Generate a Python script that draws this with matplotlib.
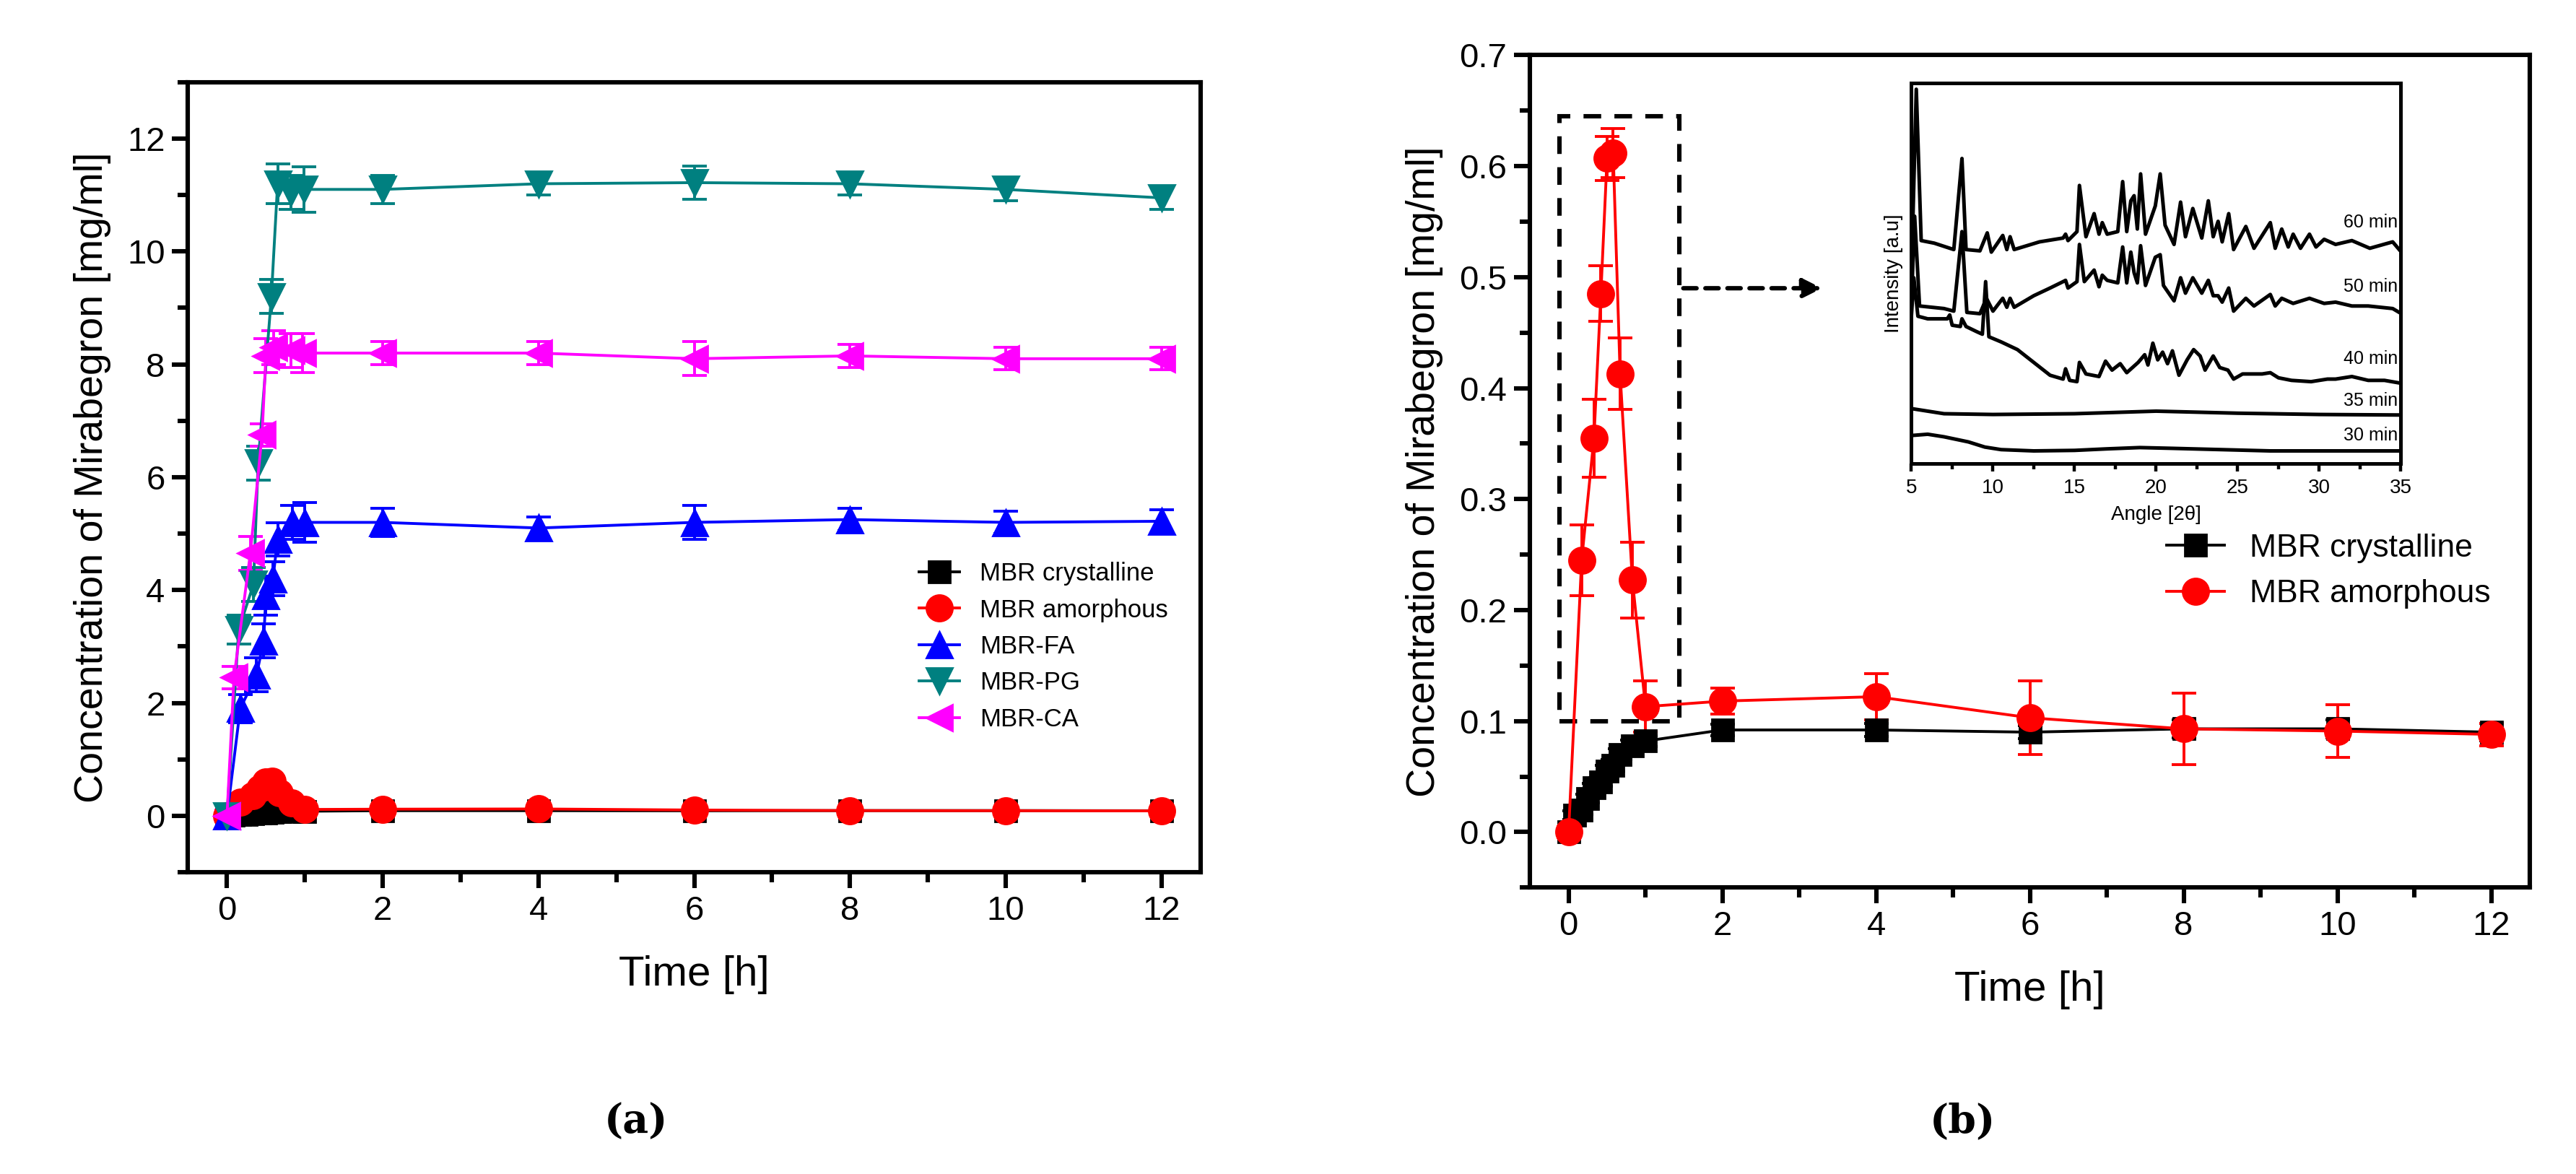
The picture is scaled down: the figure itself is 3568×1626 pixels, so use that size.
import matplotlib
matplotlib.use("Agg")
import matplotlib.pyplot as plt
from matplotlib.patches import Rectangle
from matplotlib.lines import Line2D
from matplotlib.ticker import MultipleLocator, FormatStrFormatter

plt.rcParams["font.family"] = ["Liberation Sans", "DejaVu Sans"]

# ---- dissolution data ----
t_cry = [0, 0.083, 0.167, 0.25, 0.33, 0.42, 0.5, 0.58, 0.67, 0.83, 1, 2, 4, 6, 8, 10, 12]
c_cry = [0, 0.015, 0.02, 0.03, 0.04, 0.045, 0.055, 0.06, 0.07, 0.078, 0.082, 0.092, 0.092, 0.09, 0.093, 0.093, 0.09]
e_cry = [0.003, 0.004, 0.004, 0.004, 0.004, 0.004, 0.005, 0.005, 0.005, 0.005, 0.005, 0.005, 0.006, 0.006, 0.008, 0.008, 0.008]

t_am = [0, 0.17, 0.33, 0.42, 0.5, 0.58, 0.67, 0.83, 1, 2, 4, 6, 8, 10, 12]
c_am = [0, 0.245, 0.355, 0.485, 0.607, 0.612, 0.413, 0.227, 0.113, 0.118, 0.122, 0.103, 0.093, 0.091, 0.088]
e_am = [0.005, 0.032, 0.035, 0.025, 0.02, 0.022, 0.032, 0.034, 0.023, 0.012, 0.021, 0.033, 0.032, 0.024, 0.01]

t_fa = [0, 0.17, 0.38, 0.47, 0.5, 0.59, 0.65, 0.84, 1, 2, 4, 6, 8, 10, 12]
c_fa = [0, 1.9, 2.5, 3.1, 3.9, 4.2, 4.9, 5.2, 5.2, 5.2, 5.1, 5.2, 5.25, 5.2, 5.22]
e_fa = [0.1, 0.25, 0.3, 0.3, 0.35, 0.3, 0.3, 0.3, 0.35, 0.25, 0.2, 0.3, 0.2, 0.2, 0.2]

t_pg = [0, 0.15, 0.34, 0.4, 0.57, 0.65, 0.82, 0.99, 2, 4, 6, 8, 10, 12]
c_pg = [0, 3.3, 4.1, 6.25, 9.2, 11.2, 11.05, 11.1, 11.1, 11.2, 11.22, 11.2, 11.1, 10.95]
e_pg = [0.1, 0.25, 0.3, 0.3, 0.3, 0.35, 0.3, 0.4, 0.25, 0.2, 0.3, 0.2, 0.2, 0.2]

t_ca = [0, 0.09, 0.3, 0.45, 0.5, 0.6, 0.82, 0.97, 2, 4, 6, 8, 10, 12]
c_ca = [0, 2.45, 4.65, 6.75, 8.15, 8.3, 8.25, 8.2, 8.2, 8.2, 8.1, 8.15, 8.1, 8.1]
e_ca = [0.1, 0.2, 0.3, 0.2, 0.3, 0.3, 0.3, 0.35, 0.2, 0.2, 0.3, 0.2, 0.2, 0.2]

# ---- XRD inset (y read as pixel rows, axis inverted) ----
ang60 = [5.0, 5.3, 5.6, 6.4, 7.6, 8.1, 8.35, 9.2, 9.65, 9.9, 10.6, 10.85, 11.05, 11.3, 12.85, 14.3, 14.45, 14.6,
         15.15, 15.3, 15.7, 16.2, 16.5, 16.7, 17.0, 17.65, 17.95, 18.2, 18.45, 18.65, 18.85, 19.05, 19.35, 19.95,
         20.25, 20.55, 21.1, 21.5, 21.8, 22.25, 22.8, 23.2, 23.5, 23.8, 24.05, 24.45, 24.75, 25.5, 26.0, 27.0,
         27.3, 27.7, 28.1, 28.4, 28.85, 29.4, 29.8, 30.3, 31.0, 32.0, 33.1, 34.5, 34.9]
xrd60 = [800, 65, 655, 665, 690, 335, 690, 695, 625, 700, 635, 690, 640, 690, 660, 645, 630, 655,
         620, 440, 640, 550, 630, 585, 630, 620, 425, 620, 500, 480, 610, 395, 630, 520,
         395, 595, 670, 505, 640, 530, 645, 500, 640, 580, 660, 550, 690, 600, 685, 585,
         685, 610, 680, 630, 685, 630, 680, 650, 670, 655, 685, 660, 690]

ang50 = [5.0, 5.2, 5.5, 7.0, 7.6, 8.1, 8.4, 9.2, 9.6, 10.0, 10.6, 10.85, 11.05, 11.3, 12.5, 13.5, 14.3, 14.45,
         14.6, 15.15, 15.3, 15.6, 16.2, 16.5, 16.7, 17.0, 17.65, 17.95, 18.2, 18.45, 18.65, 18.85, 19.05, 19.35,
         19.95, 20.25, 20.45, 21.1, 21.5, 21.8, 22.25, 22.8, 23.2, 23.5, 23.8, 24.05, 24.45, 24.75, 25.5, 26.0,
         27.0, 27.3, 27.7, 28.4, 29.4, 30.3, 31.0, 32.0, 33.0, 34.5, 34.9]
xrd50 = [900, 560, 910, 920, 930, 620, 935, 940, 880, 930, 880, 915, 880, 915, 870, 840, 815, 810,
         840, 815, 670, 815, 770, 835, 790, 810, 820, 680, 820, 700, 780, 820, 675, 830,
         720, 710, 830, 890, 800, 860, 800, 860, 810, 870, 870, 895, 840, 930, 880, 910,
         865, 910, 880, 900, 880, 900, 895, 910, 910, 920, 935]

ang40 = [5.0, 5.15, 5.4, 6.0, 7.2, 7.35, 7.5, 8.0, 8.1, 8.35, 9.0, 9.35, 9.55, 9.75, 10.5, 11.5, 12.5, 13.5,
         14.3, 14.45, 14.7, 15.15, 15.3, 15.7, 16.5, 16.9, 17.3, 17.8, 18.2, 18.9, 19.3, 19.5, 19.8, 20.1, 20.4,
         20.7, 21.0, 21.4, 21.9, 22.3, 22.7, 23.0, 23.5, 23.9, 24.4, 24.75, 25.3, 26.0, 26.5, 27.0, 27.5, 28.3,
         29.5, 30.5, 31.0, 32.0, 33.0, 34.0, 34.9]
xrd40 = [950, 800, 950, 960, 960, 945, 985, 990, 960, 990, 1010, 1020, 815, 1030, 1050, 1080, 1130, 1180,
         1195, 1155, 1200, 1205, 1130, 1175, 1185, 1125, 1160, 1135, 1170, 1130, 1100, 1140, 1055, 1120, 1090,
         1135, 1085, 1180, 1120, 1080, 1105, 1160, 1105, 1150, 1160, 1195, 1175, 1175, 1175, 1170, 1190, 1200,
         1205, 1195, 1195, 1185, 1200, 1200, 1210]

ang35 = [5.0, 6.0, 7.0, 10.0, 15.0, 20.0, 25.0, 30.0, 35.0]
xrd35 = [1310, 1320, 1330, 1333, 1330, 1320, 1328, 1333, 1335]

ang30 = [5.0, 6.0, 7.0, 8.5, 9.5, 10.5, 12.5, 15.0, 17.0, 19.0, 21.0, 24.0, 27.0, 30.0, 35.0]
xrd30 = [1415, 1410, 1420, 1440, 1460, 1470, 1475, 1473, 1467, 1462, 1465, 1470, 1475, 1475, 1475]

xrd_labels = ["60 min", "50 min", "40 min", "35 min", "30 min"]
xrd_label_y = [585, 835, 1115, 1280, 1415]


def style_axes(ax):
    for s in ax.spines.values():
        s.set_linewidth(2.2)
    ax.tick_params(which="major", direction="out", length=8, width=2.2, labelsize=17)
    ax.tick_params(which="minor", direction="out", length=5, width=2.2)


def series(ax, t, c, e, marker, color, ms=11):
    ax.errorbar(t, c, yerr=e, marker=marker, color=color, mfc=color, mec=color, ms=ms,
                lw=1.4, elinewidth=1.4, capsize=6, capthick=1.4)
    return Line2D([], [], marker=marker, color=color, ms=ms, lw=1.4)


fig = plt.figure(figsize=(17.84, 8.13), dpi=200)

# panel a
ax1 = fig.add_axes([0.073, 0.257, 0.393, 0.673])
h = [series(ax1, t_cry, c_cry, e_cry, "s", "black", ms=11),
     series(ax1, t_am, c_am, e_am, "o", "red", ms=13),
     series(ax1, t_fa, c_fa, e_fa, "^", "blue", ms=13),
     series(ax1, t_pg, c_pg, e_pg, "v", "#008080", ms=13),
     series(ax1, t_ca, c_ca, e_ca, "<", "magenta", ms=13)]
ax1.set_xlim(-0.5, 12.5)
ax1.set_ylim(-1, 13)
ax1.xaxis.set_major_locator(MultipleLocator(2))
ax1.xaxis.set_minor_locator(MultipleLocator(1))
ax1.yaxis.set_major_locator(MultipleLocator(2))
ax1.yaxis.set_minor_locator(MultipleLocator(1))
style_axes(ax1)
ax1.set_xlabel("Time [h]", fontsize=21, labelpad=14)
ax1.set_ylabel("Concentration of Mirabegron [mg/ml]", fontsize=20, labelpad=8)
ax1.legend(h, ["MBR crystalline", "MBR amorphous", "MBR-FA", "MBR-PG", "MBR-CA"],
           loc="lower right", bbox_to_anchor=(0.99, 0.15), frameon=False, fontsize=12.5,
           handlelength=1.6, labelspacing=0.5)

# panel b
ax2 = fig.add_axes([0.594, 0.244, 0.388, 0.709])
hb = [series(ax2, t_cry, c_cry, e_cry, "s", "black", ms=11),
      series(ax2, t_am, c_am, e_am, "o", "red", ms=13)]
ax2.set_xlim(-0.5, 12.5)
ax2.set_ylim(-0.05, 0.7)
ax2.xaxis.set_major_locator(MultipleLocator(2))
ax2.xaxis.set_minor_locator(MultipleLocator(1))
ax2.yaxis.set_major_locator(MultipleLocator(0.1))
ax2.yaxis.set_minor_locator(MultipleLocator(0.05))
ax2.yaxis.set_major_formatter(FormatStrFormatter("%.1f"))
style_axes(ax2)
ax2.set_xlabel("Time [h]", fontsize=21, labelpad=14)
ax2.set_ylabel("Concentration of Mirabegron [mg/ml]", fontsize=20, labelpad=8)
ax2.legend(hb, ["MBR crystalline", "MBR amorphous"], loc="upper right", bbox_to_anchor=(0.99, 0.46),
           frameon=False, fontsize=16, handlelength=1.8, labelspacing=0.5)
ax2.add_patch(Rectangle((-0.12, 0.1), 1.56, 0.545, fill=False, ls=(0, (4, 3)), lw=2.2, ec="black"))
ax2.annotate("", xy=(3.35, 0.49), xytext=(1.44, 0.49),
             arrowprops=dict(arrowstyle="-|>", ls=(0, (3, 2)), lw=2.2, color="black", mutation_scale=20))

# inset
ax3 = fig.add_axes([0.742, 0.605, 0.190, 0.324])
for a, y in zip([ang60, ang50, ang40, ang35, ang30], [xrd60, xrd50, xrd40, xrd35, xrd30]):
    ax3.plot(a, y, color="black", lw=1.8)
for lab, yy in zip(xrd_labels, xrd_label_y):
    ax3.text(34.8, yy, lab, ha="right", va="center", fontsize=9)
ax3.set_xlim(5, 35)
ax3.set_ylim(1525, 42)
ax3.set_yticks([])
ax3.xaxis.set_major_locator(MultipleLocator(5))
ax3.xaxis.set_minor_locator(MultipleLocator(2.5))
for s in ax3.spines.values():
    s.set_linewidth(1.8)
ax3.tick_params(which="both", direction="out", width=1.6, labelsize=10)
ax3.tick_params(which="major", length=4)
ax3.tick_params(which="minor", length=3)
ax3.set_xlabel("Angle [2θ]", fontsize=10)
ax3.set_ylabel("Intensity [a.u]", fontsize=10)

fig.text(0.247, 0.035, "(a)", ha="center", fontsize=20, family="DejaVu Serif", fontweight="bold")
fig.text(0.762, 0.035, "(b)", ha="center", fontsize=20, family="DejaVu Serif", fontweight="bold")

fig.savefig("out.png", dpi=200)
